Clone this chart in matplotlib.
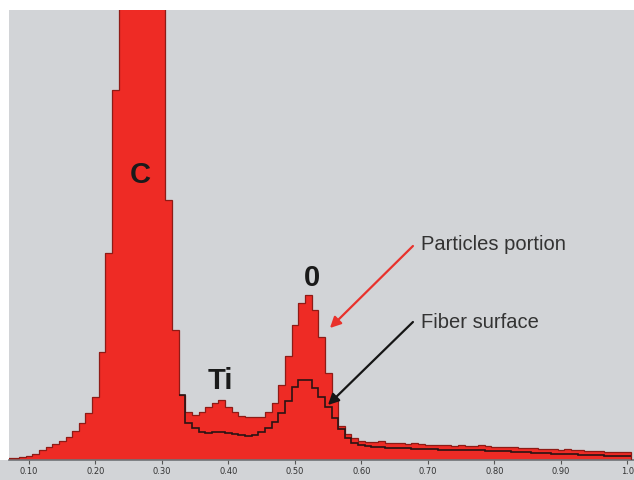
import numpy as np
import matplotlib.pyplot as plt
from matplotlib.patches import Rectangle

# energy bins (keV), one value per 0.01 bin
energy = np.round(np.arange(0.07, 1.005, 0.01), 2)

particles = [2, 2, 3, 4, 6, 10, 13, 16, 19, 23, 29, 37, 47, 63, 108, 207, 370,
             620, 820, 930, 950, 880, 720, 520, 260, 130, 65,
             48, 45, 48, 53, 57, 60, 53, 48, 44, 43, 43, 43, 48, 57, 75, 104,
             135, 157, 165, 150, 123, 87, 60, 34, 26, 22, 19, 18, 18, 19, 17,
             17, 17, 16, 17, 16, 15, 15, 15, 15, 14, 15, 14, 14, 15, 14, 13,
             13, 13, 13, 12, 12, 12, 11, 11, 11, 10, 11, 10, 10, 9, 9, 9, 8,
             8, 8, 8]

# fiber surface trace starts where it leaves the C peak (0.33 keV)
fiber_start = 0.33
fiber = [65, 37, 32, 28, 27, 28, 28, 27, 26, 25, 24, 25, 28, 32, 38, 47, 59,
         73, 80, 80, 72, 63, 53, 42, 31, 22, 17, 15, 14, 13, 13, 12, 12, 12,
         12, 11, 11, 11, 11, 10, 10, 10, 10, 10, 10, 10, 9, 9, 9, 9, 8, 8, 8,
         7, 7, 7, 6, 6, 6, 6, 5, 5, 5, 5, 4, 4, 4, 4]

tick_pos = [0.1, 0.2, 0.3, 0.4, 0.5, 0.6, 0.7, 0.8, 0.9, 1.0]
tick_lab = ["0.10", "0.20", "0.30", "0.40", "0.50", "0.60", "0.70", "0.80", "0.90", "1.0"]

RED = "#ee2b25"
BG = "#d2d4d7"

fig = plt.figure(figsize=(6.34, 4.8), dpi=100, facecolor="white")
# grey strip behind the tick labels
fig.patches.append(Rectangle((0, 0), 1, 20 / 480, transform=fig.transFigure,
                             facecolor=BG, edgecolor="none", zorder=-5))
ax = fig.add_axes([9 / 634, 20 / 480, 625 / 634, 450 / 480])
ax.set_zorder(1)
ax.set_facecolor(BG)

edges = np.append(energy - 0.005, energy[-1] + 0.005)
ax.stairs(particles, edges, fill=True, color=RED, zorder=2)
ax.stairs(particles, edges, color="#8e1b16", lw=0.9, zorder=3)

i0 = int(round((fiber_start - energy[0]) / 0.01))
f_edges = edges[i0:i0 + len(fiber) + 1]
ax.stairs(fiber, f_edges, color="#2a1414", lw=1.2, baseline=None, zorder=4)

ax.set_xlim(0.070, 1.0098)
ax.set_ylim(0, 450)

for s in ["top", "right", "left"]:
    ax.spines[s].set_visible(False)
ax.spines["bottom"].set_color("#6f7276")
ax.spines["bottom"].set_linewidth(1.2)
ax.set_yticks([])
ax.set_xticks(tick_pos)
ax.set_xticklabels(tick_lab, fontsize=6, color="#333333",
                   family=["Liberation Sans Narrow", "DejaVu Sans"])
ax.tick_params(axis="x", length=3, width=0.8, color="#555555", pad=2)

big = dict(fontsize=21, fontweight="bold", color="#1a1a1a",
           family=["Liberation Sans", "DejaVu Sans"], ha="center", va="center", zorder=5)
ax.text(0.2669, 285, "C", **big)
ax.text(0.3872, 79, "Ti", **big)
ax.text(0.5256, 182, "0", **big)

lab = dict(fontsize=14.5, color="#333333", family=["Liberation Sans", "DejaVu Sans"],
           ha="left", va="center", zorder=5)
ax.text(0.6895, 215, "Particles portion", **lab)
ax.text(0.6895, 138, "Fiber surface", **lab)

ax.annotate("", xy=(0.5526, 132), xytext=(0.6774, 214),
            arrowprops=dict(arrowstyle="-|>", color="#e8322c", lw=1.6,
                            mutation_scale=16, shrinkA=0, shrinkB=0), zorder=6)
ax.annotate("", xy=(0.5496, 55), xytext=(0.6774, 138),
            arrowprops=dict(arrowstyle="-|>", color="#151515", lw=1.6,
                            mutation_scale=16, shrinkA=0, shrinkB=0), zorder=6)

fig.savefig("out.png", dpi=100, facecolor=fig.get_facecolor())
